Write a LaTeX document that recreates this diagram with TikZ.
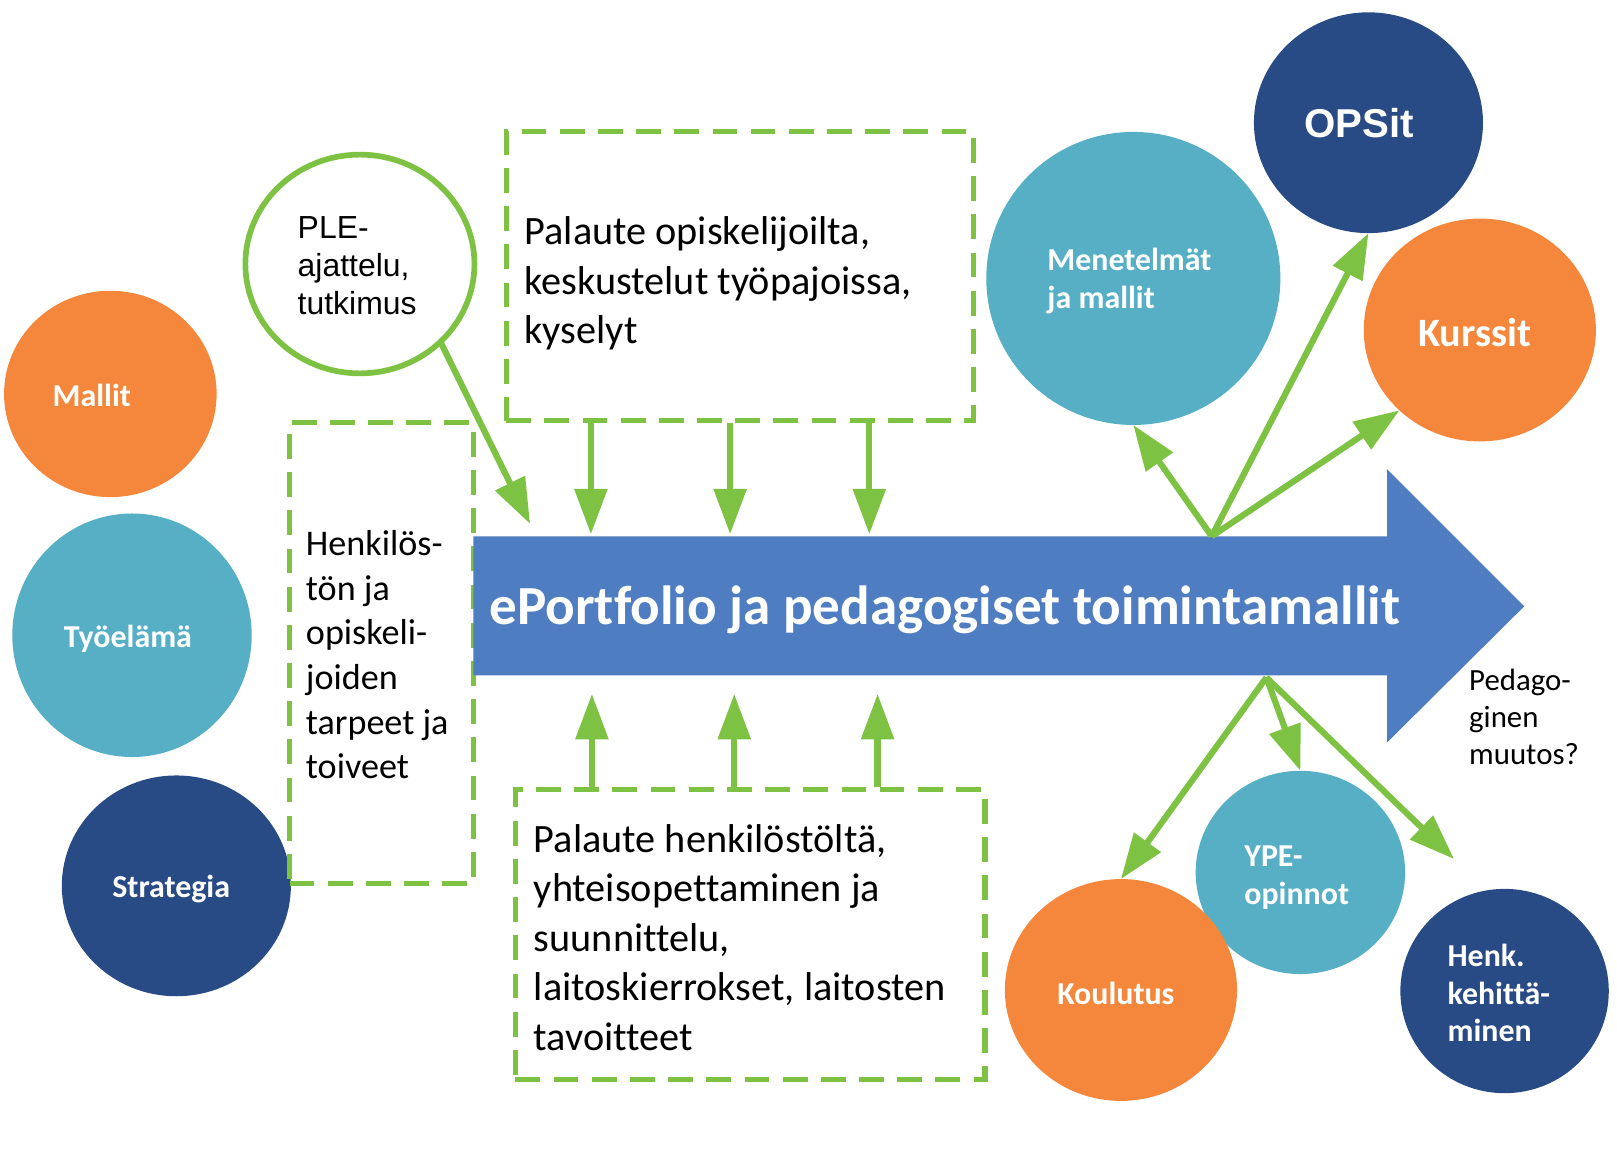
\documentclass[tikz,border=0pt]{standalone}
\usepackage{fontspec}
\setmainfont{Carlito}[Ligatures=NoCommon]
\newfontfamily\arialf{Liberation Sans}
\usetikzlibrary{arrows.meta,shapes.geometric}
\definecolor{orangeC}{HTML}{F5873D}
\definecolor{tealC}{HTML}{56AFC4}
\definecolor{navyC}{HTML}{284B85}
\definecolor{greenC}{HTML}{7DC242}
\definecolor{blueC}{HTML}{4F7DC2}
\tikzset{
  blob/.style={ellipse,inner sep=0pt,outer sep=0pt},
  lbl/.style={text=white,font=\bfseries\fontsize{8.8pt}{10.5pt}\selectfont,align=left,inner sep=0pt},
  dbox/.style={rectangle,draw=greenC,line width=0.05cm,dash pattern=on 0.24cm off 0.13cm,inner sep=0pt},
  btxt/.style={align=left,inner sep=0pt,anchor=west},
  garrow/.style={draw=greenC,line width=0.06cm,-{Triangle[length=0.44cm,width=0.31cm]}}
}
\begin{document}
\begin{tikzpicture}[x=0.01cm,y=-0.01cm]
\path[use as bounding box] (0,0) rectangle (1568,1127);

% left circles
\node[blob,fill=orangeC,minimum width=2.06cm,minimum height=2.00cm] (mallit) at (107,382) {};
\node[lbl] (mallitT) at (89,383) {Mallit};
\node[blob,fill=tealC,minimum width=2.32cm,minimum height=2.36cm] (tyo) at (128,616) {};
\node[lbl] (tyoT) at (124,619) {Työelämä};
\node[blob,fill=navyC,minimum width=2.22cm,minimum height=2.14cm] (strat) at (171,859) {};
\node[lbl] (stratT) at (166,862) {Strategia};

% PLE circle
\node[blob,fill=white,draw=greenC,line width=0.055cm,minimum width=2.22cm,minimum height=2.12cm] (ple) at (349,256) {};
\node[btxt,font=\arialf\fontsize{8.8pt}{10.5pt}\selectfont] (pleT) at (288,258) {PLE-\\ajattelu,\\tutkimus};

% dashed boxes
\node[dbox,minimum width=4.53cm,minimum height=2.80cm] (topbox) at (717.5,268) {};
\node[btxt,font=\fontsize{11.1pt}{13.66pt}\selectfont] (topT) at (508,275) {Palaute opiskelijoilta,\\keskustelut työpajoissa,\\kyselyt};
\node[dbox,minimum width=1.78cm,minimum height=4.47cm] (leftbox) at (370,633.5) {};
\node[btxt,font=\fontsize{9.96pt}{12.3pt}\selectfont] (leftT) at (296,635) {Henkilös-\\tön ja\\opiskeli-\\joiden\\tarpeet ja\\toiveet};
\node[dbox,minimum width=4.55cm,minimum height=2.81cm] (botbox) at (727.5,906.5) {};
\node[btxt,font=\fontsize{11.1pt}{13.66pt}\selectfont] (botT) at (517,909) {Palaute henkilöstöltä,\\yhteisopettaminen ja\\suunnittelu,\\laitoskierrokset, laitosten\\tavoitteet};

% main arrow
\fill[blueC] (459,520) -- (1345,520) -- (1345,455) -- (1478,588) -- (1345,720) -- (1345,655) -- (459,655) -- cycle;
\node[btxt,text=white,font=\bfseries\fontsize{15.2pt}{18pt}\selectfont] (main) at (474,591) {ePortfolio ja pedagogiset toimintamallit};

% right circles
\node[blob,fill=tealC,minimum width=2.85cm,minimum height=2.84cm] (met) at (1099,270) {};
\node[lbl,anchor=west] (metT) at (1015,272.5) {Menetelmät\\ja mallit};
\node[blob,fill=navyC,minimum width=2.22cm,minimum height=2.14cm] (ops) at (1327,119) {};
\node[lbl,font=\arialf\bfseries\fontsize{11.1pt}{13pt}\selectfont] (opsT) at (1318,119) {OPSit};
\node[blob,fill=orangeC,minimum width=2.25cm,minimum height=2.16cm] (kur) at (1435,320) {};
\node[lbl,font=\bfseries\fontsize{11.1pt}{13pt}\selectfont] (kurT) at (1430,322) {Kurssit};
\node[blob,fill=tealC,minimum width=2.03cm,minimum height=1.97cm] (ype) at (1261,846) {};
\node[lbl,anchor=west,font=\bfseries\fontsize{8.8pt}{10.25pt}\selectfont] (ypeT) at (1206,851) {YPE-\\opinnot};
\node[blob,fill=orangeC,minimum width=2.25cm,minimum height=2.15cm] (kou) at (1087,960) {};
\node[lbl] (kouT) at (1082,963) {Koulutus};
\node[blob,fill=navyC,minimum width=2.02cm,minimum height=1.98cm] (henk) at (1459,961) {};
\node[lbl,anchor=west,font=\bfseries\fontsize{8.8pt}{10.4pt}\selectfont] (henkT) at (1403,963) {Henk.\\kehittä-\\minen};

\node[btxt,font=\fontsize{8.5pt}{10.2pt}\selectfont] (ped) at (1424,695) {Pedago-\\ginen\\muutos?};

% coordinates on the main arrow
\coordinate (d1) at (573,518);
\coordinate (d2) at (708,518);
\coordinate (d3) at (843,518);
\coordinate (u1) at (574,673);
\coordinate (u2) at (712,673);
\coordinate (u3) at (851,673);
\coordinate (pletip) at (514,508);
\coordinate (rt) at (1175,520);
\coordinate (rb) at (1228,657);
\coordinate (henktip) at (1410,833);

% connectors
\draw[garrow] (ple.-44) -- (pletip);
\draw[garrow] (topbox.south -| d1) -- (d1);
\draw[garrow] (topbox.south -| d2) -- (d2);
\draw[garrow] (topbox.south -| d3) -- (d3);
\draw[garrow] (botbox.north -| u1) -- (u1);
\draw[garrow] (botbox.north -| u2) -- (u2);
\draw[garrow] (botbox.north -| u3) -- (u3);
\draw[garrow] (rt) -- (met.south);
\draw[garrow] (rt) -- (ops.south);
\draw[garrow] (rt) -- (kur.-135);
\draw[garrow] (rb) -- (kou.north);
\draw[garrow] (rb) -- (ype.north);
\draw[garrow] (rb) -- (henktip);
\end{tikzpicture}
\end{document}
